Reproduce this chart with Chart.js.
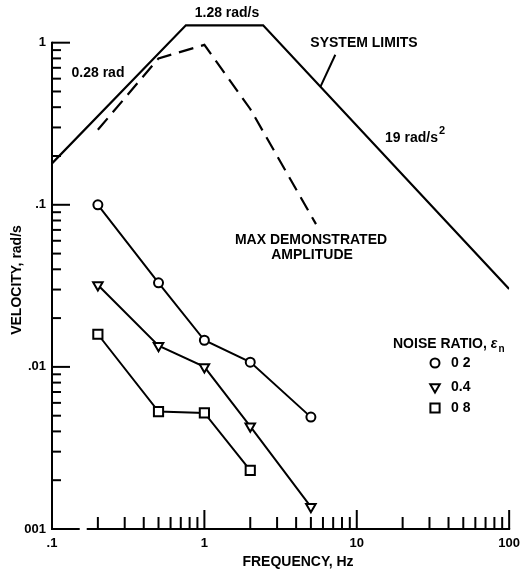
<!DOCTYPE html>
<html>
<head>
<meta charset="utf-8">
<script src="https://cdn.jsdelivr.net/npm/chart.js@4/dist/chart.umd.min.js"></script>
<style>
  html, body { margin: 0; padding: 0; background: #fff; }
  #wrap { width: 527px; height: 575px; position: relative; }
</style>
</head>
<body>
<div id="wrap"><canvas id="c"></canvas></div>
<script>
// ---------- data ----------
const freqTickValues = [0.1, 1, 10, 100];
const freqTickLabels = ['.1', '1', '10', '100'];
const velTickValues = [0.001, 0.01, 0.1, 1];
const velTickLabels = ['001', '.01', '.1', '1'];

// system limits: 0.28 rad displacement, 1.28 rad/s velocity, 19 rad/s^2 acceleration
const limitFreq = [0.1, 0.756, 2.43, 100];
const limitVel  = [0.18, 1.28, 1.28, 0.0302];

// max demonstrated amplitude (dashed)
const demoFreq = [0.2, 0.5, 1.0, 2.0, 5.4];
const demoVel  = [0.29, 0.80, 0.97, 0.39, 0.076];

// noise ratio series
const freq02 = [0.2, 0.5, 1, 2, 5];
const vel02  = [0.100, 0.033, 0.0146, 0.0107, 0.0049];
const freq04 = [0.2, 0.5, 1, 2, 5];
const vel04  = [0.032, 0.0135, 0.0100, 0.0043, 0.00137];
const freq08 = [0.2, 0.5, 1, 2];
const vel08  = [0.0159, 0.0053, 0.0052, 0.0023];
const noiseLabels = ['0 2', '0.4', '0 8'];

// ---------- helpers ----------
const pts = (xs, ys) => xs.map((x, i) => ({ x, y: ys[i] }));
const FONT = '"Liberation Sans", Arial, sans-serif';

const markerStyles = [
  { pointStyle: 'circle', radius: 4.5, rotation: 0 },
  { pointStyle: 'triangle', radius: 5.5, rotation: 180 },
  { pointStyle: 'rect', radius: 6.5, rotation: 0 }
];

function drawMarker(ctx, st, x, y) {
  ctx.save();
  ctx.lineWidth = 2;
  ctx.strokeStyle = '#000';
  ctx.fillStyle = '#fff';
  if (Chart.helpers && Chart.helpers.drawPoint) {
    Chart.helpers.drawPoint(ctx, { pointStyle: st.pointStyle, radius: st.radius, rotation: st.rotation, borderWidth: 2 }, x, y);
  }
  ctx.restore();
}

const decorPlugin = {
  id: 'decor',
  beforeDatasetsDraw(chart) {
    const { ctx } = chart;
    const xs = chart.scales.x, ys = chart.scales.y;
    const x0 = xs.getPixelForValue(0.1);
    const yBot = ys.getPixelForValue(0.001);
    ctx.save();
    ctx.strokeStyle = '#000';
    ctx.lineWidth = 2;
    ctx.lineCap = 'butt';
    // y axis line (from .001 to 1)
    ctx.beginPath();
    ctx.moveTo(x0, yBot + 1);
    ctx.lineTo(x0, ys.getPixelForValue(1) - 1);
    ctx.stroke();
    // x axis line with small break
    ctx.beginPath();
    ctx.moveTo(x0, yBot);
    ctx.lineTo(xs.getPixelForValue(0.152), yBot);
    ctx.moveTo(xs.getPixelForValue(0.169), yBot);
    ctx.lineTo(xs.getPixelForValue(100) + 1, yBot);
    ctx.stroke();
    // y ticks (inward)
    for (let d = -3; d <= 0; d++) {
      const base = Math.pow(10, d);
      for (let m = 1; m <= 9; m++) {
        const v = base * m;
        if (v <= 0.001 + 1e-9 || v > 1.0001) continue;
        const p = ys.getPixelForValue(v);
        const len = (m === 1) ? 18 : 9;
        ctx.beginPath();
        ctx.moveTo(x0, p);
        ctx.lineTo(x0 + len, p);
        ctx.stroke();
      }
    }
    // x ticks (inward)
    for (let d = -1; d <= 2; d++) {
      const base = Math.pow(10, d);
      for (let m = 1; m <= 9; m++) {
        const v = base * m;
        if (v <= 0.1 + 1e-9 || v > 100.0001) continue;
        const p = xs.getPixelForValue(v);
        const len = (m === 1) ? 19 : 12;
        ctx.beginPath();
        ctx.moveTo(p, yBot);
        ctx.lineTo(p, yBot - len);
        ctx.stroke();
      }
    }
    ctx.restore();
  },
  afterDraw(chart) {
    const { ctx } = chart;
    const xs = chart.scales.x, ys = chart.scales.y;
    ctx.save();
    ctx.fillStyle = '#000';
    ctx.strokeStyle = '#000';
    ctx.textBaseline = 'middle';
    ctx.font = 'bold 14px ' + FONT;

    ctx.textAlign = 'center';
    ctx.fillText('1.28 rad/s', 227, 13);
    ctx.fillText('0.28 rad', 98, 73);
    ctx.fillText('SYSTEM LIMITS', 364, 43);
    ctx.fillText('MAX DEMONSTRATED', 311, 240);
    ctx.fillText('AMPLITUDE', 312, 255);
    ctx.fillText('FREQUENCY, Hz', 298, 562);

    // 19 rad/s^2
    ctx.textAlign = 'left';
    ctx.fillText('19 rad/s', 385, 138);
    const w19 = ctx.measureText('19 rad/s').width;
    ctx.font = 'bold 11px ' + FONT;
    ctx.fillText('2', 385 + w19 + 1, 131);

    // leader line for SYSTEM LIMITS
    ctx.lineWidth = 2;
    ctx.beginPath();
    ctx.moveTo(xs.getPixelForValue(7.23), ys.getPixelForValue(0.843));
    ctx.lineTo(xs.getPixelForValue(5.77), ys.getPixelForValue(0.534));
    ctx.stroke();

    // y axis title
    ctx.save();
    ctx.font = 'bold 14px ' + FONT;
    ctx.translate(17, 280);
    ctx.rotate(-Math.PI / 2);
    ctx.textAlign = 'center';
    ctx.fillText('VELOCITY, rad/s', 0, 0);
    ctx.restore();

    // legend
    ctx.font = 'bold 14px ' + FONT;
    ctx.textAlign = 'left';
    const t = 'NOISE RATIO, ';
    ctx.fillText(t, 393, 344);
    let tx = 393 + ctx.measureText(t).width;
    ctx.font = 'italic bold 14px ' + FONT;
    ctx.fillText('\u03b5', tx, 344);
    tx += ctx.measureText('\u03b5').width;
    ctx.font = 'bold 10px ' + FONT;
    ctx.fillText('n', tx + 1, 349);

    const rowsY = [363, 387, 408];
    ctx.font = 'bold 14px ' + FONT;
    noiseLabels.forEach((lab, i) => {
      drawMarker(ctx, markerStyles[i], 435, rowsY[i]);
      ctx.fillStyle = '#000';
      ctx.fillText(lab, 451, rowsY[i]);
    });
    ctx.restore();
  }
};

const seriesDS = (data, i) => ({
  data,
  showLine: true,
  borderColor: '#000',
  borderWidth: 2,
  pointStyle: markerStyles[i].pointStyle,
  pointRadius: markerStyles[i].radius,
  pointRotation: markerStyles[i].rotation,
  pointBackgroundColor: '#fff',
  pointBorderColor: '#000',
  pointBorderWidth: 2,
  pointHoverRadius: markerStyles[i].radius
});

new Chart(document.getElementById('c'), {
  type: 'scatter',
  data: {
    datasets: [
      seriesDS(pts(freq02, vel02), 0),
      seriesDS(pts(freq04, vel04), 1),
      seriesDS(pts(freq08, vel08), 2),
      {
        data: pts(limitFreq, limitVel),
        showLine: true, borderColor: '#000', borderWidth: 2.2,
        pointRadius: 0, pointHoverRadius: 0
      },
      {
        data: pts(demoFreq, demoVel),
        showLine: true, borderColor: '#000', borderWidth: 2.2,
        borderDash: [15, 8],
        pointRadius: 0, pointHoverRadius: 0
      }
    ]
  },
  options: {
    responsive: true,
    maintainAspectRatio: false,
    animation: false,
    events: [],
    layout: { padding: { top: 19, right: 15, left: 0, bottom: 0 } },
    plugins: { legend: { display: false }, tooltip: { enabled: false } },
    scales: {
      x: {
        type: 'logarithmic',
        min: 0.1, max: 100,
        afterFit(s) { s.height = 46; },
        afterBuildTicks(s) { s.ticks = freqTickValues.map(v => ({ value: v, major: true })); },
        ticks: {
          autoSkip: false, maxRotation: 0, padding: 7,
          color: '#000',
          font: { family: FONT, size: 13, weight: 'bold' },
          callback: (v) => freqTickLabels[freqTickValues.indexOf(v)]
        },
        grid: { display: false, drawTicks: false },
        border: { display: false }
      },
      y: {
        type: 'logarithmic',
        min: 0.001, max: 1.4,
        afterFit(s) { s.width = 52; },
        afterBuildTicks(s) { s.ticks = velTickValues.map(v => ({ value: v, major: true })); },
        ticks: {
          autoSkip: false, padding: 6,
          color: '#000',
          font: { family: FONT, size: 13, weight: 'bold' },
          callback: (v) => velTickLabels[velTickValues.indexOf(v)]
        },
        grid: { display: false, drawTicks: false },
        border: { display: false }
      }
    }
  },
  plugins: [decorPlugin]
});
</script>
</body>
</html>
